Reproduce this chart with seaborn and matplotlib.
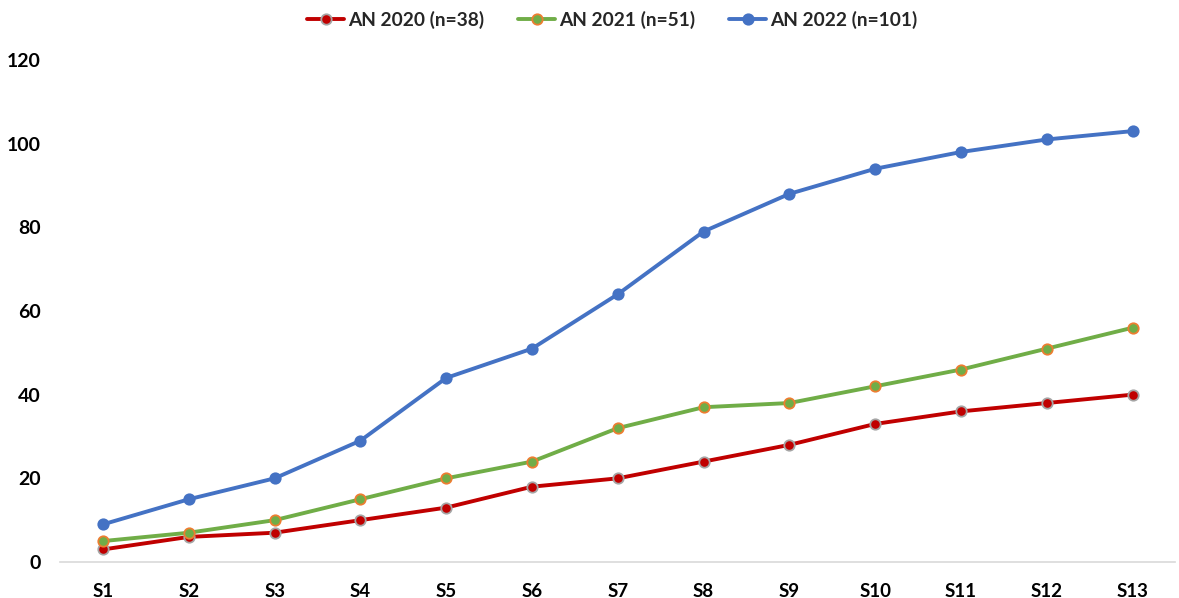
import matplotlib
matplotlib.use("Agg")
import matplotlib.pyplot as plt
import seaborn as sns
import pandas as pd

categories = ["S1", "S2", "S3", "S4", "S5", "S6", "S7", "S8", "S9", "S10", "S11", "S12", "S13"]
an2020 = [3, 6, 7, 10, 13, 18, 20, 24, 28, 33, 36, 38, 40]
an2021 = [5, 7, 10, 15, 20, 24, 32, 37, 38, 42, 46, 51, 56]
an2022 = [9, 15, 20, 29, 44, 51, 64, 79, 88, 94, 98, 101, 103]
labels = ["AN 2020 (n=38)", "AN 2021 (n=51)", "AN 2022 (n=101)"]
colors = ["#C00000", "#70AD47", "#4472C4"]
edges = ["#A5A5A5", "#ED7D31", "#4472C4"]

sns.set_style("white")
plt.rcParams['font.family'] = ['Lato', 'DejaVu Sans']
plt.rcParams['font.weight'] = 'bold'

fig = plt.figure(figsize=(11.79, 5.98), dpi=100)
ax = fig.add_axes([0.051, 0.0602, 0.946, 0.8395])

for vals, lab, c, e in zip([an2020, an2021, an2022], labels, colors, edges):
    df = pd.DataFrame({"x": range(len(categories)), "y": vals})
    sns.lineplot(data=df, x="x", y="y", ax=ax, color=c, linewidth=2.8,
                 marker="o", markersize=7.5, markeredgecolor=e, markeredgewidth=1.3,
                 markerfacecolor=c, label=lab, clip_on=False)

ax.set_xlim(-0.5, len(categories) - 0.5)
ax.set_ylim(0, 120)
ax.set_yticks(range(0, 121, 20))
ax.set_xticks(range(len(categories)))
ax.set_xticklabels(categories)
ax.set_xlabel("")
ax.set_ylabel("")
for s in ["top", "right", "left"]:
    ax.spines[s].set_visible(False)
ax.spines["bottom"].set_color("#D9D9D9")
ax.spines["bottom"].set_linewidth(1.2)
ax.tick_params(axis="both", length=0, colors="#000000")
ax.tick_params(axis="x", pad=15, labelsize=13.5)
ax.tick_params(axis="y", pad=14, labelsize=14)
for t in ax.get_xticklabels() + ax.get_yticklabels():
    t.set_fontweight("bold")

leg = ax.legend(loc="upper center", bbox_to_anchor=(0.495, 1.132), ncol=3, frameon=False,
                prop={"weight": "bold", "size": 13.8}, handlelength=1.95, columnspacing=1.75,
                handletextpad=0.2)

fig.savefig("out.png", dpi=100)
